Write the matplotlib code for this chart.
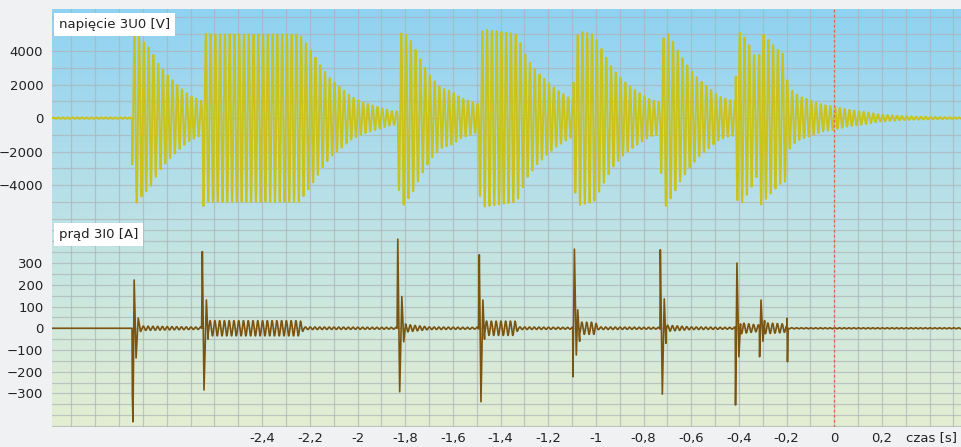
import numpy as np
import matplotlib.pyplot as plt
from matplotlib.colors import LinearSegmentedColormap
from matplotlib.ticker import FixedLocator, MultipleLocator, FuncFormatter

# --- napiecie 3U0: amplitude envelope of the 50 Hz oscillation (s, V)
u_env_t = [-3.30, -2.9465, -2.945, -2.935, -2.92, -2.868, -2.834, -2.792, -2.75, -2.709, -2.665, -2.6495,
           -2.648, -2.635, -2.243, -2.189, -2.149, -2.111, -2.069, -2.027, -1.985, -1.943, -1.859, -1.8315,
           -1.830, -1.813, -1.771, -1.732, -1.690, -1.648, -1.606, -1.564, -1.507, -1.4905,
           -1.489, -1.474, -1.332, -1.290, -1.248, -1.206, -1.164, -1.121, -1.0945,
           -1.093, -1.072, -1.009, -0.967, -0.932, -0.890, -0.848, -0.806, -0.771, -0.742, -0.7295,
           -0.728, -0.712, -0.672, -0.651, -0.609, -0.567, -0.525, -0.483, -0.441, -0.4145,
           -0.413, -0.392, -0.349, -0.331, -0.3155, -0.314, -0.307, -0.265, -0.223, -0.206,
           -0.195, -0.174, -0.146, -0.104, -0.048, 0.0, 0.058, 0.114, 0.198, 0.31, 0.45, 0.55]
u_env_v = [40, 40, 3000, 5250, 4900, 4080, 3180, 2480, 1890, 1390, 1090, 1000,
           5300, 5000, 5000, 3900, 2990, 2290, 1800, 1290, 990, 790, 420, 400,
           4000, 5300, 4500, 3380, 2390, 1790, 1590, 1190, 900, 850,
           4500, 5300, 5000, 3580, 2780, 2190, 1690, 1290, 1100,
           4100, 5200, 5000, 3880, 2990, 2290, 1790, 1390, 1090, 990, 950,
           3000, 5370, 4480, 3880, 2990, 2290, 1790, 1290, 1090, 1000,
           4780, 5170, 4180, 3580, 3400, 4970, 5170, 4480, 3880, 3800,
           1990, 1590, 1290, 1090, 790, 690, 500, 400, 200, 100, 60, 30]

# --- prad 3I0: amplitude of the 50 Hz residual oscillation (s, A)
i_env_t = [-3.30, -2.946, -2.90, -2.66, -2.62, -2.24, -2.225, -1.84, -1.80, -1.70, -1.50,
           -1.46, -1.339, -1.325, -1.10, -1.06, -1.002, -0.99, -0.74, -0.70, -0.60, -0.42,
           -0.39, -0.32, -0.29, -0.21, -0.19, 0.55]
i_env_a = [0, 0, 10, 5, 35, 35, 6, 4, 18, 6, 4,
           33, 33, 6, 4, 28, 28, 6, 4, 14, 6, 4,
           25, 15, 25, 20, 2.5, 2.5]

# current transients at each re-strike: start time (s), offsets (ms), values (A)
i_spike_t0 = [-2.946, -2.654, -1.834, -1.492, -1.097, -0.731, -0.415, -0.314, -0.199]
i_spike_ms = [[0, 1.5, 4, 9, 17, 26, 36],
              [0, 3, 10, 20, 27],
              [0, 3, 11, 20, 28, 36],
              [0, 3, 10, 18, 25],
              [0, 1, 7, 15, 21, 29],
              [0, 1.5, 10, 18, 25],
              [0, 1, 7, 15, 22],
              [0, 1, 7, 15, 22],
              [0, 1, 3, 6]]
i_spike_a = [[0, -315, -430, 222, -137, 47, -15],
             [0, 353, -284, 130, -50],
             [0, 410, -292, 146, -62, 20],
             [0, 338, -338, 130, -50],
             [0, -223, 364, -123, 85, -60],
             [0, 361, -303, 135, -69],
             [0, -353, 300, -131, 20],
             [0, -131, 130, -60, 35],
             [0, 46, -154, 0]]

x_ticks = [-2.4, -2.2, -2.0, -1.8, -1.6, -1.4, -1.2, -1.0, -0.8, -0.6, -0.4, -0.2, 0.0, 0.2]
u_ticks = [-4000, -2000, 0, 2000, 4000]
i_ticks = [-300, -200, -100, 0, 100, 200, 300]

# build the traces
t = np.arange(-3.29, 0.54, 0.0005)
u = np.interp(t, u_env_t, u_env_v) * np.sin(2 * np.pi * 50 * t + 0.4)
i = np.interp(t, i_env_t, i_env_a) * np.sin(2 * np.pi * 50 * t + 1.1)

keep = np.ones_like(t, dtype=bool)
ti_parts, i_parts = [], []
for t0, ms, a in zip(i_spike_t0, i_spike_ms, i_spike_a):
    tt = t0 + np.array(ms) / 1000.0
    keep &= ~((t >= tt[0]) & (t <= tt[-1]))
    ti_parts.append(tt)
    i_parts.append(np.array(a, dtype=float))
ti = np.concatenate([t[keep]] + ti_parts)
iv = np.concatenate([i[keep]] + i_parts)
order = np.argsort(ti)
ti, iv = ti[order], iv[order]

fig = plt.figure(figsize=(9.61, 4.47), dpi=100, facecolor='#f0f1f3')
ax1 = fig.add_axes([0.0538, 0.4917, 0.9462, 0.4882])
ax2 = fig.add_axes([0.0538, 0.0454, 0.9462, 0.4463])

grad_top = LinearSegmentedColormap.from_list('top', ['#bee2e6', '#8fd2f2'])
grad_bot = LinearSegmentedColormap.from_list('bot', ['#e4eed2', '#bee3e4'])
ramp = np.linspace(0, 1, 256).reshape(-1, 1)

for ax, cm in ((ax1, grad_top), (ax2, grad_bot)):
    ax.imshow(ramp, cmap=cm, origin='lower', aspect='auto', extent=[0, 1, 0, 1],
              transform=ax.transAxes, zorder=0)
    for s in ax.spines.values():
        s.set_visible(False)
    ax.set_xlim(-3.283, 0.532)
    ax.xaxis.set_major_locator(FixedLocator(x_ticks))
    ax.xaxis.set_minor_locator(MultipleLocator(0.1))
    ax.grid(which='both', color='#adb4b8', lw=0.9, alpha=0.7)
    ax.tick_params(which='both', length=0, labelsize=9.5, colors='#222222')
    ax.axvline(0, color='#e8604c', lw=0.9, ls=(0, (2, 2)), zorder=3)

ax1.plot(t, u, color='#c9c31c', lw=1.4, zorder=2)
ax1.set_ylim(-6500, 6500)
ax1.yaxis.set_major_locator(FixedLocator(u_ticks))
ax1.yaxis.set_minor_locator(MultipleLocator(1000))
ax1.tick_params(axis='x', labelbottom=False)
ax1.tick_params(axis='y', pad=6)
ax1.text(0.0075, 0.96, 'napięcie 3U0 [V]', transform=ax1.transAxes, va='top', ha='left',
         fontsize=9.5, color='#222222', zorder=5,
         bbox=dict(facecolor='white', edgecolor='none', pad=3.5))

ax2.plot(ti, iv, color='#7a5410', lw=1.2, zorder=2)
ax2.set_ylim(-453, 465)
ax2.yaxis.set_major_locator(FixedLocator(i_ticks))
ax2.yaxis.set_minor_locator(MultipleLocator(50))
ax2.tick_params(axis='y', pad=6)
ax2.tick_params(axis='x', pad=3.5)
ax2.xaxis.set_major_formatter(FuncFormatter(lambda v, p: ('%g' % round(v, 1)).replace('.', ',')))
ax2.text(0.0075, 0.995, 'prąd 3I0 [A]', transform=ax2.transAxes, va='top', ha='left',
         fontsize=9.5, color='#222222', zorder=5,
         bbox=dict(facecolor='white', edgecolor='none', pad=3.5))

fig.text(0.996, 1 - 438 / 447, 'czas [s]', ha='right', va='center', fontsize=9.5, color='#222222')

fig.savefig('out.png', dpi=100, facecolor=fig.get_facecolor())
